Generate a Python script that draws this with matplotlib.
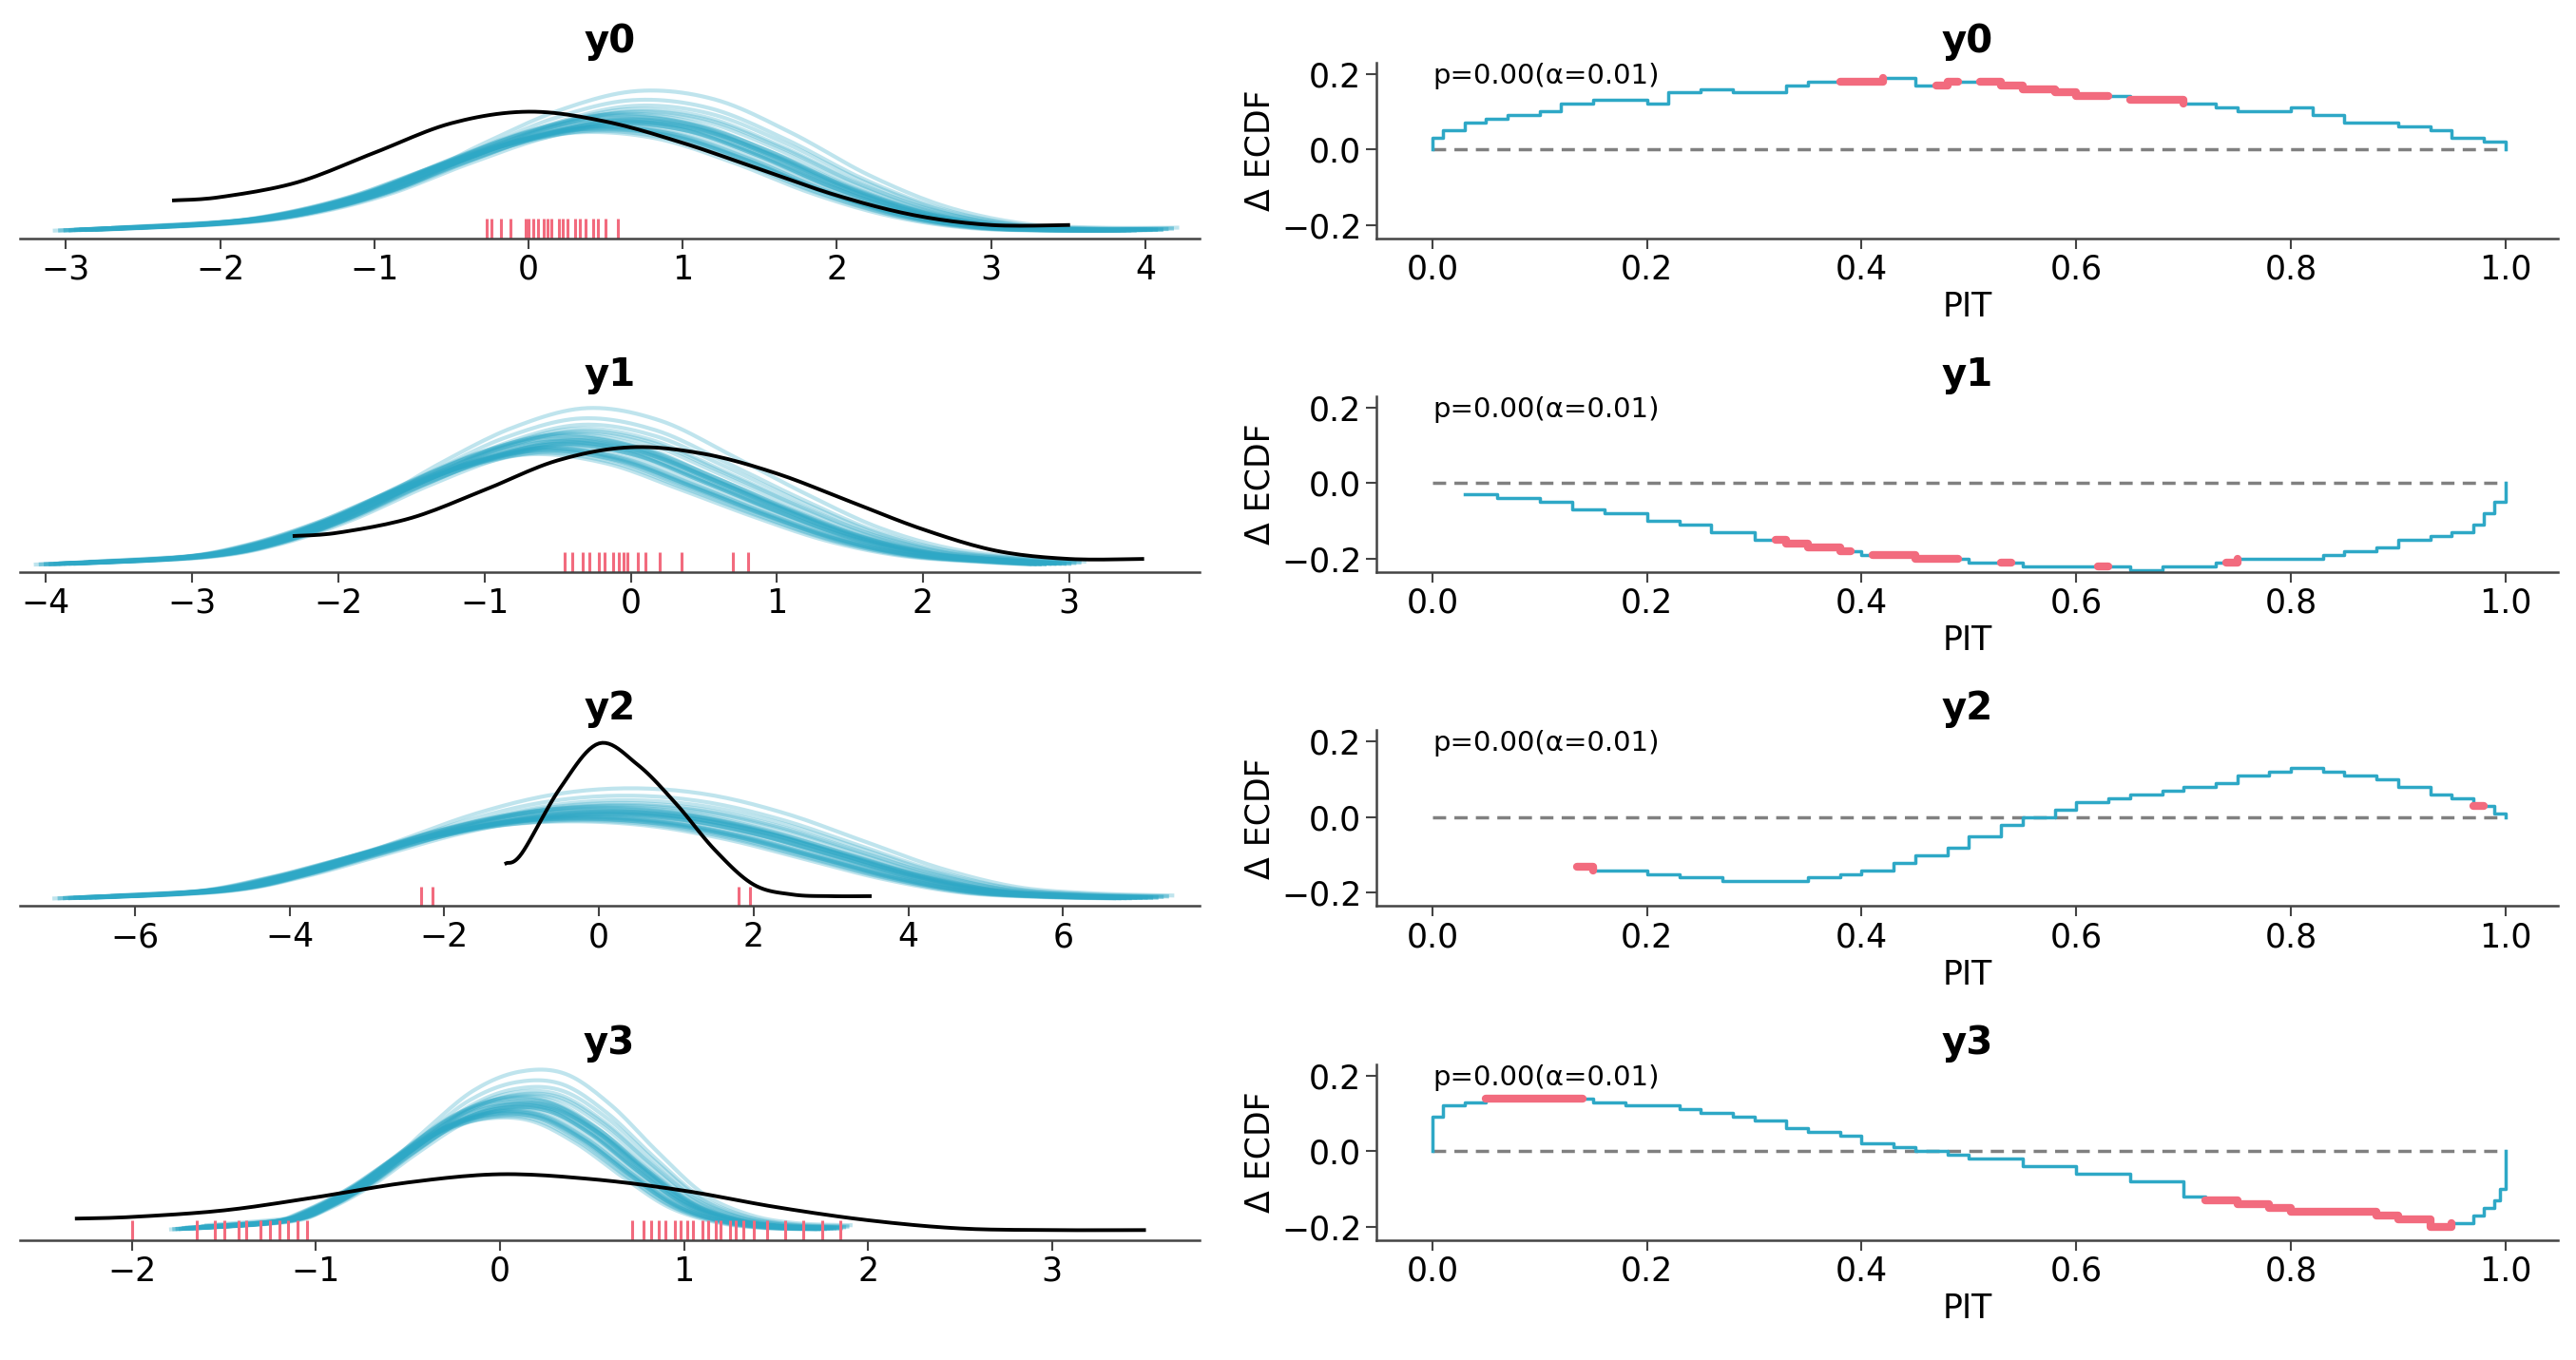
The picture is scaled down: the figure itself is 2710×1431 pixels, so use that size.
import numpy as np
import matplotlib
matplotlib.use("Agg")
import matplotlib.pyplot as plt

BLUE = "#2ea8c6"
RED = "#f26b7e"
names = ["y0", "y1", "y2", "y3"]

# ---- left column: density curves (heights in arbitrary units)
pred_x = [
    [-2.9, -2, -1.5, -1, -0.5, 0, 0.5, 1, 1.5, 2, 2.5, 3, 3.5, 4.0],
    [-3.9, -3, -2.5, -2, -1.5, -1, -0.5, 0, 0.5, 1, 1.5, 2, 2.5, 2.9],
    [-6.7, -5, -4, -3, -2, -1, 0, 1, 2, 3, 4, 5, 6, 7],
    [-1.7, -1.2, -1, -0.75, -0.5, -0.25, 0, 0.25, 0.5, 0.75, 1, 1.25, 1.5, 1.8],
]
pred_y = [
    [0.05, 0.09, 0.15, 0.27, 0.45, 0.61, 0.70, 0.66, 0.50, 0.30, 0.15, 0.07, 0.05, 0.05],
    [0.05, 0.09, 0.17, 0.32, 0.52, 0.69, 0.78, 0.72, 0.55, 0.37, 0.21, 0.11, 0.07, 0.05],
    [0.05, 0.09, 0.18, 0.31, 0.44, 0.53, 0.56, 0.53, 0.44, 0.31, 0.18, 0.09, 0.06, 0.05],
    [0.07, 0.11, 0.18, 0.33, 0.53, 0.71, 0.80, 0.79, 0.64, 0.42, 0.22, 0.12, 0.08, 0.07],
]
obs_x = [
    [-2.3, -2, -1.5, -1, -0.5, 0, 0.5, 1, 1.5, 2, 2.5, 3, 3.5],
    [-2.3, -2, -1.5, -1, -0.5, 0, 0.5, 1, 1.5, 2, 2.5, 3, 3.5],
    [-1.2, -1, -0.5, 0, 0.5, 1, 1.5, 2, 2.5, 3, 3.5],
    [-2.3, -2, -1.5, -1, -0.5, 0, 0.5, 1, 1.5, 2, 2.5, 3, 3.5],
]
obs_y = [
    [0.23, 0.25, 0.34, 0.52, 0.70, 0.77, 0.71, 0.58, 0.42, 0.26, 0.14, 0.08, 0.08],
    [0.22, 0.24, 0.33, 0.50, 0.68, 0.76, 0.72, 0.60, 0.43, 0.26, 0.13, 0.08, 0.08],
    [0.26, 0.32, 0.72, 0.99, 0.86, 0.62, 0.34, 0.13, 0.07, 0.06, 0.06],
    [0.13, 0.14, 0.18, 0.26, 0.35, 0.40, 0.37, 0.30, 0.20, 0.12, 0.07, 0.06, 0.06],
]
# per-draw shifts (fraction of range) and height factors of the predictive curves
draw_shift = [0.00, 0.02, -0.03, 0.04, -0.01, 0.03, -0.04, 0.01, 0.05, -0.02,
              0.02, -0.05, 0.00, 0.03, -0.03, 0.06, -0.01, 0.01, -0.02, 0.04,
              0.02, -0.04, 0.00, 0.05, -0.03, 0.01, 0.03, -0.02, 0.00, -0.01]
draw_scale = [1.00, 1.05, 0.95, 1.10, 0.98, 1.03, 0.93, 1.08, 1.20, 0.97,
              1.02, 0.92, 1.06, 1.00, 0.96, 1.28, 1.04, 0.99, 0.94, 1.12,
              1.01, 0.95, 1.07, 1.15, 0.97, 1.03, 1.09, 0.96, 1.00, 1.02]
rugs = [
    [-0.27, -0.24, -0.18, -0.12, -0.02, 0.0, 0.03, 0.06, 0.1, 0.12, 0.15, 0.2, 0.22,
     0.25, 0.3, 0.33, 0.37, 0.42, 0.45, 0.5, 0.58],
    [-0.45, -0.4, -0.33, -0.28, -0.22, -0.18, -0.12, -0.08, -0.05, -0.02, 0.05, 0.1,
     0.2, 0.35, 0.7, 0.8],
    [-2.3, -2.15, 1.8, 1.95],
    [-2.0, -1.65, -1.55, -1.5, -1.42, -1.38, -1.3, -1.25, -1.2, -1.15, -1.1, -1.05,
     0.72, 0.78, 0.82, 0.86, 0.9, 0.95, 0.98, 1.02, 1.05, 1.1, 1.13, 1.17, 1.2, 1.25,
     1.28, 1.32, 1.38, 1.45, 1.55, 1.65, 1.75, 1.85],
]
left_xlim = [(-3.30, 4.35), (-4.18, 3.89), (-7.49, 7.76), (-2.61, 3.80)]

# ---- right column: PIT ECDF difference
ecdf_x = [
    [0, 0, 0.01, 0.03, 0.05, 0.07, 0.1, 0.12, 0.15, 0.18, 0.2, 0.22, 0.25, 0.28, 0.3,
     0.33, 0.35, 0.38, 0.4, 0.42, 0.45, 0.48, 0.5, 0.53, 0.55, 0.58, 0.6, 0.63, 0.65,
     0.68, 0.7, 0.73, 0.75, 0.78, 0.8, 0.82, 0.85, 0.88, 0.9, 0.93, 0.95, 0.98, 1.0],
    [0.03, 0.06, 0.1, 0.13, 0.16, 0.2, 0.23, 0.26, 0.3, 0.33, 0.35, 0.38, 0.4, 0.43,
     0.45, 0.48, 0.5, 0.53, 0.55, 0.58, 0.6, 0.63, 0.65, 0.68, 0.7, 0.73, 0.75, 0.78,
     0.8, 0.83, 0.85, 0.88, 0.9, 0.93, 0.95, 0.97, 0.98, 0.99, 1.0],
    [0.135, 0.15, 0.18, 0.2, 0.23, 0.27, 0.3, 0.32, 0.35, 0.38, 0.4, 0.43, 0.45, 0.48,
     0.5, 0.53, 0.55, 0.58, 0.6, 0.63, 0.65, 0.68, 0.7, 0.73, 0.75, 0.78, 0.8, 0.83,
     0.85, 0.88, 0.9, 0.93, 0.95, 0.97, 0.99, 1.0],
    [0, 0, 0.01, 0.03, 0.05, 0.08, 0.1, 0.13, 0.15, 0.18, 0.2, 0.23, 0.25, 0.28, 0.3,
     0.33, 0.35, 0.38, 0.4, 0.43, 0.45, 0.48, 0.5, 0.55, 0.6, 0.65, 0.7, 0.72, 0.75,
     0.78, 0.8, 0.83, 0.85, 0.88, 0.9, 0.93, 0.95, 0.97, 0.98, 0.99, 0.995, 1.0],
]
ecdf_y = [
    [0, 0.03, 0.05, 0.07, 0.08, 0.09, 0.10, 0.12, 0.13, 0.13, 0.12, 0.15, 0.16, 0.15,
     0.15, 0.17, 0.18, 0.18, 0.18, 0.19, 0.17, 0.18, 0.18, 0.17, 0.16, 0.15, 0.14,
     0.14, 0.13, 0.13, 0.12, 0.11, 0.10, 0.10, 0.11, 0.09, 0.07, 0.07, 0.06, 0.05,
     0.03, 0.02, 0.0],
    [-0.03, -0.04, -0.05, -0.07, -0.08, -0.10, -0.11, -0.13, -0.15, -0.16, -0.17,
     -0.18, -0.19, -0.19, -0.20, -0.20, -0.21, -0.21, -0.22, -0.22, -0.22, -0.22,
     -0.23, -0.22, -0.22, -0.21, -0.20, -0.20, -0.20, -0.19, -0.18, -0.17, -0.15,
     -0.14, -0.13, -0.11, -0.08, -0.05, 0.0],
    [-0.13, -0.14, -0.14, -0.15, -0.16, -0.17, -0.17, -0.17, -0.16, -0.15, -0.14,
     -0.12, -0.10, -0.08, -0.05, -0.02, 0.0, 0.02, 0.04, 0.05, 0.06, 0.07, 0.08, 0.09,
     0.11, 0.12, 0.13, 0.12, 0.11, 0.10, 0.08, 0.06, 0.05, 0.03, 0.01, 0.0],
    [0, 0.09, 0.12, 0.13, 0.14, 0.14, 0.14, 0.14, 0.13, 0.12, 0.12, 0.11, 0.10, 0.09,
     0.08, 0.06, 0.05, 0.04, 0.02, 0.01, 0.0, -0.01, -0.02, -0.04, -0.06, -0.08,
     -0.12, -0.13, -0.14, -0.15, -0.16, -0.16, -0.16, -0.17, -0.18, -0.20, -0.19,
     -0.17, -0.15, -0.13, -0.10, 0.0],
]
red_ranges = [
    [(0.38, 0.42), (0.47, 0.49), (0.51, 0.63), (0.65, 0.70)],
    [(0.32, 0.39), (0.41, 0.49), (0.53, 0.54), (0.62, 0.63), (0.74, 0.75)],
    [(0.135, 0.15), (0.97, 0.98)],
    [(0.05, 0.14), (0.72, 0.95)],
]


def smooth(x, y, n=12):
    # Catmull-Rom rendering of the read points, for a smooth drawn line
    x = np.asarray(x, float)
    y = np.asarray(y, float)
    P = np.column_stack([x, y])
    P = np.vstack([P[0], P, P[-1]])
    out = []
    t = np.linspace(0, 1, n, endpoint=False)[:, None]
    for i in range(1, len(P) - 2):
        p0, p1, p2, p3 = P[i - 1], P[i], P[i + 1], P[i + 2]
        out.append(0.5 * (2 * p1 + (-p0 + p2) * t + (2 * p0 - 5 * p1 + 4 * p2 - p3) * t ** 2
                          + (-p0 + 3 * p1 - 3 * p2 + p3) * t ** 3))
    out.append(P[-2][None, :])
    out = np.vstack(out)
    return out[:, 0], out[:, 1]


plt.rcParams["font.family"] = ["DejaVu Sans"]
fig = plt.figure(figsize=(27.10, 14.31), dpi=100)
H = 828.0
for r in range(4):
    bottom = 1 - (145 + 203.3 * r) / H
    h = 107 / H
    axl = fig.add_axes([12 / 1568, bottom, (730 - 12) / 1568, h])
    axr = fig.add_axes([838 / 1568, bottom, (1557 - 838) / 1568, h])

    # left
    px = np.array(pred_x[r])
    py = np.array(pred_y[r])
    span = px[-1] - px[0]
    for s, k in zip(draw_shift, draw_scale):
        sx, sy = smooth(px + 0.5 * s * span, py * k)
        axl.plot(sx, sy, color=BLUE, alpha=0.3, lw=3)
    sx, sy = smooth(obs_x[r], obs_y[r])
    axl.plot(sx, sy, color="black", lw=2.8, zorder=5)
    axl.vlines(rugs[r], 0, 0.12, color=RED, lw=2.2)
    axl.set_xlim(*left_xlim[r])
    axl.set_ylim(0, 1.07)
    axl.set_yticks([])
    for sp in ("top", "right", "left"):
        axl.spines[sp].set_visible(False)
    axl.spines["bottom"].set_color("#444444")
    axl.spines["bottom"].set_linewidth(1.8)
    axl.tick_params(labelsize=25, length=8, width=1.5, color="#444444")
    axl.set_title(names[r], fontsize=29, fontweight="bold", pad=8)

    # right
    ex = np.array(ecdf_x[r])
    ey = np.array(ecdf_y[r])
    axr.plot([0, 1], [0, 0], "--", color="gray", lw=2.5, dashes=(4, 2.5))
    axr.plot(ex, ey, drawstyle="steps-post", color=BLUE, lw=2.5)
    for a, b in red_ranges[r]:
        idx = np.searchsorted(ex, a, side="right") - 1
        jdx = np.searchsorted(ex, b, side="right") - 1
        xs = [a] + list(ex[idx + 1:jdx + 1]) + [b]
        ys = [ey[max(idx, 0)]] + list(ey[idx + 1:jdx + 1]) + [ey[max(jdx, 0)]]
        axr.plot(xs, ys, drawstyle="steps-post", color=RED, lw=6,
                 solid_capstyle="round", zorder=4)
    axr.set_xlim(-0.052, 1.049)
    axr.set_ylim(-0.235, 0.23)
    axr.set_yticks([-0.2, 0.0, 0.2])
    axr.set_xticks([0, 0.2, 0.4, 0.6, 0.8, 1.0])
    axr.set_xticklabels(["0.0", "0.2", "0.4", "0.6", "0.8", "1.0"])
    axr.set_yticklabels(["\u22120.2", "0.0", "0.2"])
    for sp in ("top", "right"):
        axr.spines[sp].set_visible(False)
    for sp in ("bottom", "left"):
        axr.spines[sp].set_color("#444444")
        axr.spines[sp].set_linewidth(1.8)
    axr.tick_params(labelsize=25, length=8, width=1.5, color="#444444")
    axr.set_xlabel("PIT", fontsize=25)
    axr.set_ylabel("\u0394 ECDF", fontsize=25)
    axr.set_title(names[r], fontsize=29, fontweight="bold", pad=8)
    axr.text(0.0, 0.175, "p=0.00(\u03b1=0.01)", fontsize=21)

fig.savefig("out.png", dpi=100)
